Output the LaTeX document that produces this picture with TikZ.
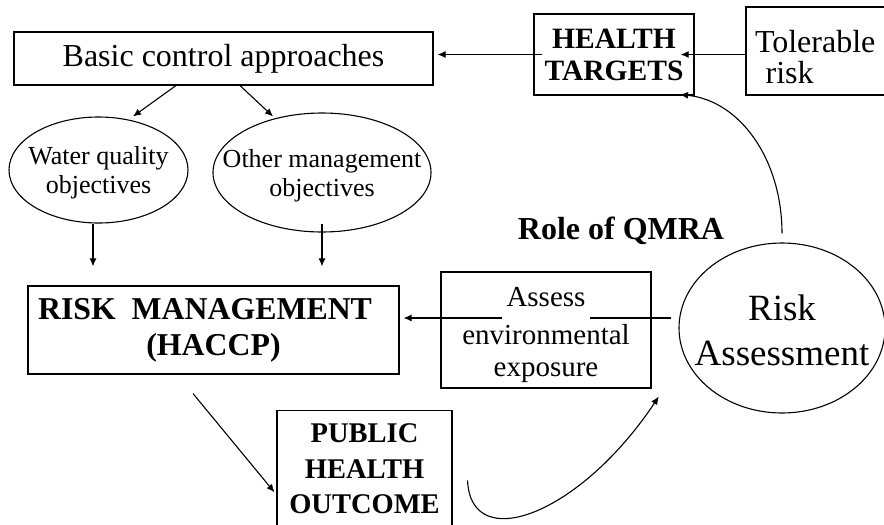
\documentclass[tikz,border=0pt]{standalone}
\usepackage{fontspec}
\setmainfont{Liberation Serif}
\usetikzlibrary{arrows.meta,shapes.geometric}

\begin{document}
\begin{tikzpicture}[x=1pt,y=-1pt,line width=1.1pt,
	box/.style={draw,rectangle,inner sep=0pt,align=center},
	oval/.style={draw,ellipse,inner sep=0pt},
	arr/.style={-{Latex[length=8pt,width=7pt]}}]
	\clip (0,0) rectangle (884,525);
	\node[box,minimum width=419pt,minimum height=53pt,font=\fontsize{32}{36}\selectfont] (basic) at (223.5,58.5){Basic control approaches};
	\node[box,minimum width=160pt,minimum height=81pt,font=\fontsize{29.5}{32}\selectfont\bfseries] (ht) at (614,54.5){HEALTH\\TARGETS};
	\node[box,align=left,text width=140pt,inner xsep=9pt,minimum height=88pt,font=\fontsize{32}{31}\selectfont] (tol) at (825,51){\rule{0pt}{34pt}Tolerable\\\ risk};
	\node[oval,minimum width=179pt,minimum height=106pt] (wq) at (98.5,170){};
	\node[align=center,font=\fontsize{26}{29}\selectfont] (wqtext) at (98.5,173){Water quality\\objectives};
	\node[oval,minimum width=218pt,minimum height=119pt] (om) at (322,172.5){};
	\node[align=center,font=\fontsize{26}{29.5}\selectfont] (omtext) at (322,175.5){Other management\\objectives};
	\node[box,minimum width=371pt,minimum height=88pt,font=\fontsize{31.8}{36}\selectfont\bfseries] (rm) at (213.5,330){RISK~~MANAGEMENT\kern17pt\\(HACCP)};
	\node[oval,minimum width=206pt,minimum height=170pt] (ra) at (782,328){};
	\node[align=center,font=\fontsize{37}{45}\selectfont] (ratext) at (782,330){Risk\\Assessment};
	\node[font=\fontsize{32}{36}\selectfont\bfseries] (qmra) at (621,231){Role of QMRA};
	\coordinate (mid) at (546,318);
	\draw[arr,{Latex[length=8pt,width=7pt]}-,shorten <=4pt,shorten >=7pt] (rm.east |- mid) -- (ra.west |- mid);
	\node[box,minimum width=210pt,minimum height=116pt,font=\fontsize{29}{32.5}\selectfont] (env) at (546,330){\raisebox{0pt}[30pt][0pt]{\fboxsep=5pt\colorbox{white}{Assess\rule[-8pt]{0pt}{8pt}}}\\[5pt]environmental\\exposure};
	\node[box,minimum width=175pt,minimum height=117pt,font=\fontsize{28.5}{35.5}\selectfont\bfseries] (ph) at (364.5,468.8){PUBLIC\\HEALTH\\OUTCOME};
	\draw[arr] ([xshift=9pt]ht.west) -- ([xshift=4pt]basic.east |- ht.west);
	\draw[arr] (tol.west |- ht.east) -- ([xshift=-14pt]ht.east);
	\draw[arr] ([xshift=-47.5pt]basic.south) -- ([xshift=34.5pt]wq.north);
	\draw[arr] ([xshift=16.5pt]basic.south) -- ([xshift=-49pt,yshift=-4pt]om.north);
	\draw[arr,shorten >=19pt] ([xshift=-5.5pt]wq.south) -- ([xshift=-5.5pt]wq.south |- rm.north);
	\draw[arr,shorten >=19pt] ([yshift=9pt]om.south) -- (om.south |- rm.north);
	\draw[arr] ([xshift=-20.5pt,yshift=-19pt]rm.south) -- ([xshift=-2pt,yshift=-23.5pt]ph.west);
	\draw[arr] ([xshift=15pt,yshift=-11.5pt]ph.east) .. controls +(3,75) and +(-79,119) .. ([xshift=-50pt,yshift=-8pt]ra.south west);
	\draw[arr] ([yshift=9pt]ra.north) .. controls +(0,-74) and +(60,6) .. ([xshift=66pt,yshift=1pt]ht.south);
\end{tikzpicture}
\end{document}
